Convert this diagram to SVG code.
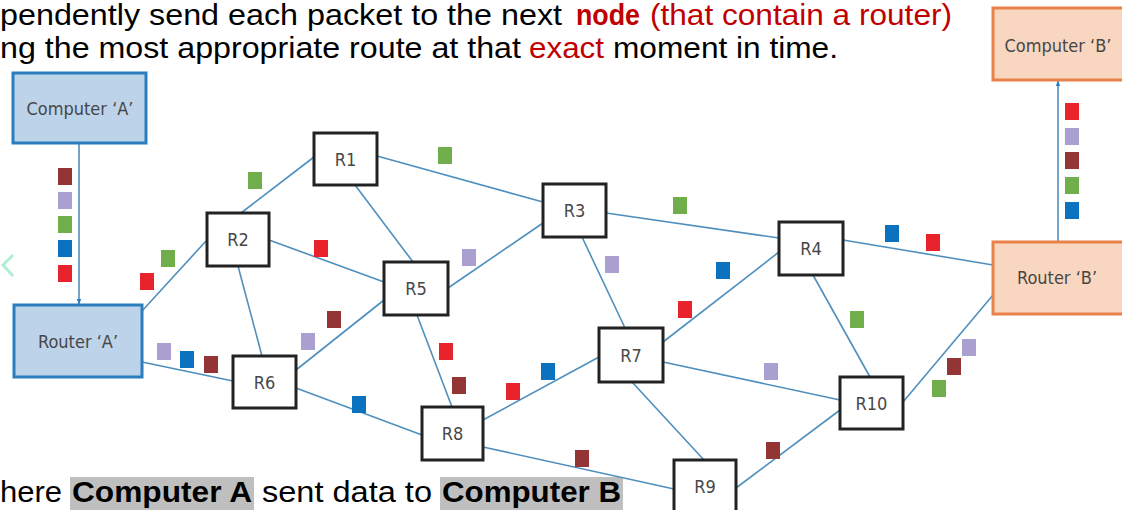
<svg xmlns="http://www.w3.org/2000/svg" width="1122" height="510" viewBox="0 0 1122 510">
<style>
.bg{fill:#ffffff}
.t{font-family:"Liberation Sans",Arial,sans-serif;font-size:29px;fill:#000}
.red{fill:#c00000}
.b{font-weight:bold}
.hl{fill:#bfbfbf}
.rt rect{fill:#fff;stroke:#222;stroke-width:3}
.lbl{font-family:"Liberation Sans Narrow","DejaVu Sans Condensed","Liberation Sans",sans-serif;font-size:18px;fill:#474747;text-anchor:middle;dominant-baseline:central}
.blue rect{fill:#bcd3ea;stroke:#2b7dbd;stroke-width:3}
.orange rect{fill:#f9d6c0;stroke:#e8824a;stroke-width:3}
.ln line{stroke:#4f8fbd;stroke-width:1.6}
.pR{fill:#e8232b}.pG{fill:#6fae4a}.pB{fill:#0a72bf}.pL{fill:#a9a0cf}.pD{fill:#943535}
</style>
<defs>
<marker id="arr" viewBox="0 0 10 10" refX="9" refY="5" markerWidth="6" markerHeight="6" orient="auto" markerUnits="userSpaceOnUse">
<path d="M0,1 L10,5 L0,9 z" fill="#2b7dbd"/>
</marker>
</defs>
<rect class="bg" x="0" y="0" width="1122" height="510"/>

<g id="title">
<text class="t" x="0" y="25" textLength="562" lengthAdjust="spacingAndGlyphs">pendently send each packet to the next</text>
<text class="t red b" x="576" y="25" textLength="64" lengthAdjust="spacingAndGlyphs">node</text>
<text class="t red" x="650" y="25" textLength="302" lengthAdjust="spacingAndGlyphs">(that contain a router)</text>
<text class="t" x="0" y="58" textLength="521" lengthAdjust="spacingAndGlyphs">ng the most appropriate route at that</text>
<text class="t red" x="529" y="58" textLength="75" lengthAdjust="spacingAndGlyphs">exact</text>
<text class="t" x="613" y="58" textLength="225" lengthAdjust="spacingAndGlyphs">moment in time.</text>
</g>

<g id="caption">
<rect class="hl" x="70" y="477" width="184" height="33"/>
<rect class="hl" x="440" y="477" width="183" height="33"/>
<text class="t" x="0" y="502" textLength="62" lengthAdjust="spacingAndGlyphs">here</text>
<text class="t b" x="72" y="502" textLength="180" lengthAdjust="spacingAndGlyphs">Computer A</text>
<text class="t" x="262" y="502" textLength="170" lengthAdjust="spacingAndGlyphs">sent data to</text>
<text class="t b" x="442" y="502" textLength="179" lengthAdjust="spacingAndGlyphs">Computer B</text>
</g>

<path d="M13,255 L3,265 L13,276" fill="none" stroke="#9de8c4" stroke-width="3" opacity="0.8"/>

<g id="connectors" class="ln">
<line x1="79" y1="143" x2="79" y2="304" marker-end="url(#arr)"/>
<line x1="1058" y1="242" x2="1058" y2="81" marker-end="url(#arr)"/>
<line x1="142" y1="311" x2="206" y2="241"/>
<line x1="142" y1="362" x2="233" y2="381"/>
<line x1="241" y1="213" x2="314" y2="157"/>
<line x1="269" y1="240" x2="384" y2="282"/>
<line x1="238" y1="266" x2="262" y2="356"/>
<line x1="377" y1="156" x2="543" y2="202"/>
<line x1="355" y1="185" x2="413" y2="262"/>
<line x1="448" y1="288" x2="543" y2="223"/>
<line x1="384" y1="300" x2="296" y2="370"/>
<line x1="417" y1="315" x2="452" y2="407"/>
<line x1="296" y1="388" x2="422" y2="435"/>
<line x1="483" y1="420" x2="599" y2="357"/>
<line x1="483" y1="447" x2="674" y2="489"/>
<line x1="606" y1="213" x2="779" y2="238"/>
<line x1="582" y1="237" x2="625" y2="328"/>
<line x1="663" y1="342" x2="779" y2="252"/>
<line x1="663" y1="362" x2="840" y2="400"/>
<line x1="632" y1="382" x2="704" y2="460"/>
<line x1="843" y1="240" x2="993" y2="265"/>
<line x1="813" y1="275" x2="870" y2="377"/>
<line x1="903" y1="402" x2="993" y2="295"/>
<line x1="736" y1="488" x2="840" y2="410"/>
</g>

<g id="computerA" class="blue"><rect x="13" y="73" width="133" height="70"/><text class="lbl" x="80" y="108">Computer ‘A’</text></g>
<g id="routerA" class="blue"><rect x="14" y="305" width="128" height="72"/><text class="lbl" x="78" y="341">Router ‘A’</text></g>
<g id="computerB" class="orange"><rect x="993" y="8" width="140" height="72"/><text class="lbl" x="1058" y="45">Computer ‘B’</text></g>
<g id="routerB" class="orange"><rect x="993" y="242" width="140" height="72"/><text class="lbl" x="1057" y="277">Router ‘B’</text></g>

<g id="R1" class="rt"><rect x="314" y="133" width="63" height="52"/><text class="lbl" x="345.5" y="159">R1</text></g>
<g id="R2" class="rt"><rect x="207" y="213" width="62" height="53"/><text class="lbl" x="238" y="239.5">R2</text></g>
<g id="R3" class="rt"><rect x="543" y="184" width="63" height="53"/><text class="lbl" x="574.5" y="210.5">R3</text></g>
<g id="R4" class="rt"><rect x="779" y="222" width="64" height="53"/><text class="lbl" x="811" y="248.5">R4</text></g>
<g id="R5" class="rt"><rect x="384" y="262" width="64" height="53"/><text class="lbl" x="416" y="288.5">R5</text></g>
<g id="R6" class="rt"><rect x="233" y="356" width="63" height="52"/><text class="lbl" x="264.5" y="382">R6</text></g>
<g id="R7" class="rt"><rect x="599" y="328" width="64" height="54"/><text class="lbl" x="631" y="355">R7</text></g>
<g id="R8" class="rt"><rect x="422" y="407" width="61" height="53"/><text class="lbl" x="452.5" y="433.5">R8</text></g>
<g id="R9" class="rt"><rect x="674" y="460" width="62" height="56"/><text class="lbl" x="705" y="486">R9</text></g>
<g id="R10" class="rt"><rect x="840" y="377" width="63" height="52"/><text class="lbl" x="871.5" y="403">R10</text></g>

<g id="packets">
<rect class="pD" x="58" y="168" width="14" height="17"/>
<rect class="pL" x="58" y="192" width="14" height="17"/>
<rect class="pG" x="58" y="216" width="14" height="17"/>
<rect class="pB" x="58" y="240" width="14" height="17"/>
<rect class="pR" x="58" y="265" width="14" height="17"/>
<rect class="pR" x="140" y="273" width="14" height="17"/>
<rect class="pG" x="161" y="250" width="14" height="17"/>
<rect class="pL" x="157" y="343" width="14" height="17"/>
<rect class="pB" x="180" y="351" width="14" height="17"/>
<rect class="pD" x="204" y="356" width="14" height="17"/>
<rect class="pG" x="248" y="172" width="14" height="17"/>
<rect class="pG" x="438" y="147" width="14" height="17"/>
<rect class="pR" x="314" y="240" width="14" height="17"/>
<rect class="pL" x="462" y="249" width="14" height="17"/>
<rect class="pD" x="327" y="311" width="14" height="17"/>
<rect class="pL" x="301" y="333" width="14" height="17"/>
<rect class="pB" x="352" y="396" width="14" height="17"/>
<rect class="pR" x="439" y="343" width="14" height="17"/>
<rect class="pD" x="452" y="377" width="14" height="17"/>
<rect class="pR" x="506" y="383" width="14" height="17"/>
<rect class="pB" x="541" y="363" width="14" height="17"/>
<rect class="pG" x="673" y="197" width="14" height="17"/>
<rect class="pL" x="605" y="256" width="14" height="17"/>
<rect class="pR" x="678" y="301" width="14" height="17"/>
<rect class="pB" x="716" y="262" width="14" height="17"/>
<rect class="pB" x="885" y="225" width="14" height="17"/>
<rect class="pR" x="926" y="234" width="14" height="17"/>
<rect class="pG" x="850" y="311" width="14" height="17"/>
<rect class="pL" x="764" y="363" width="14" height="17"/>
<rect class="pL" x="962" y="339" width="14" height="17"/>
<rect class="pD" x="947" y="358" width="14" height="17"/>
<rect class="pG" x="932" y="380" width="14" height="17"/>
<rect class="pD" x="766" y="442" width="14" height="17"/>
<rect class="pD" x="575" y="450" width="14" height="17"/>
<rect class="pR" x="1065" y="103" width="14" height="17"/>
<rect class="pL" x="1065" y="128" width="14" height="17"/>
<rect class="pD" x="1065" y="152" width="14" height="17"/>
<rect class="pG" x="1065" y="177" width="14" height="17"/>
<rect class="pB" x="1065" y="202" width="14" height="17"/>
</g>
</svg>
